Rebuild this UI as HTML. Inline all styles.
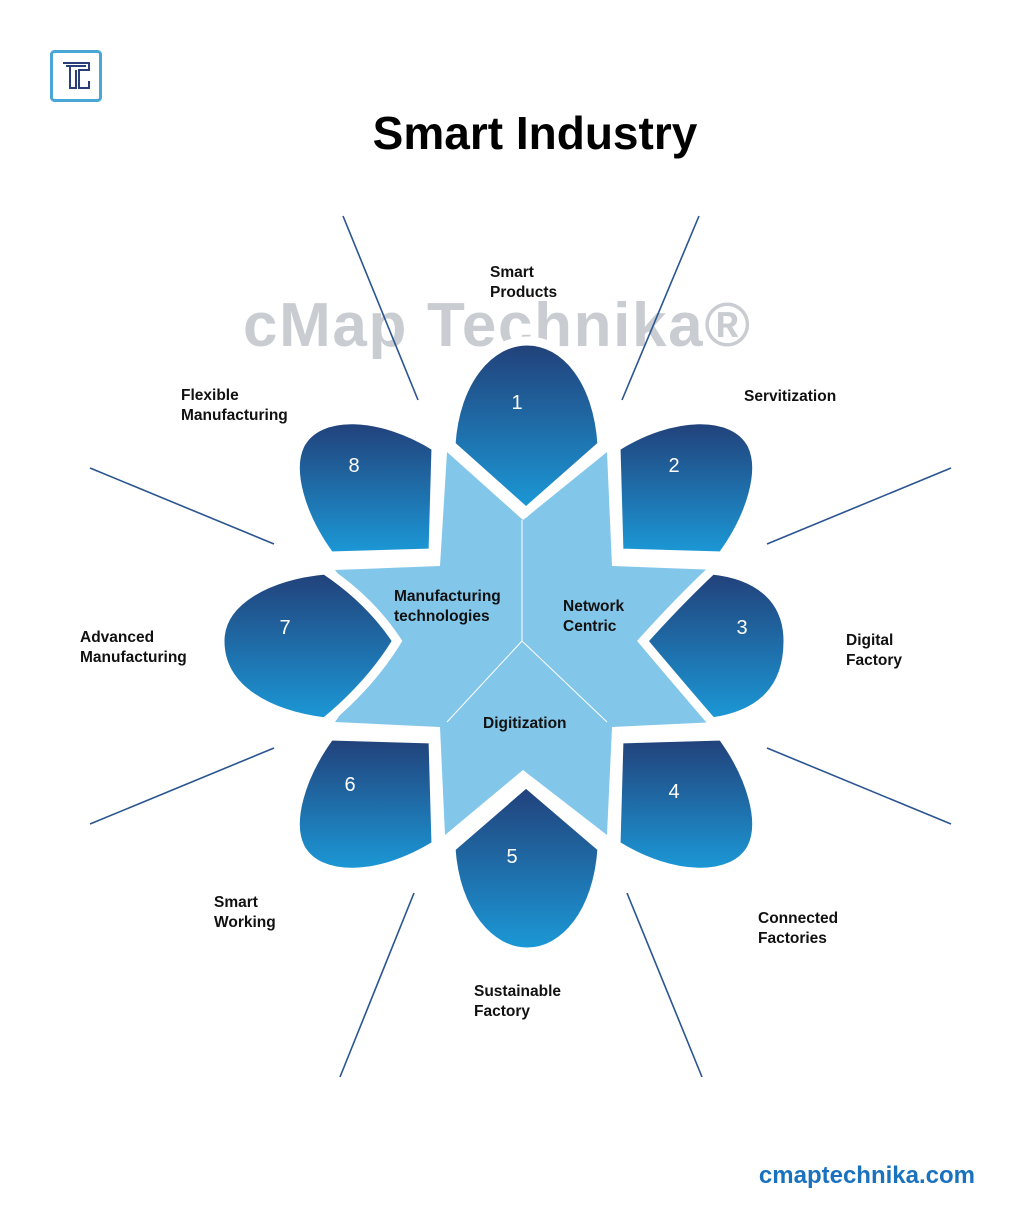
<!DOCTYPE html>
<html><head><meta charset="utf-8"><style>
html,body{margin:0;padding:0;background:#fff}
svg{display:block}
text{font-family:"Liberation Sans",sans-serif}
</style></head><body>
<svg width="1031" height="1230" viewBox="0 0 1031 1230" xmlns="http://www.w3.org/2000/svg">
<defs>
<linearGradient id="g" x1="0" y1="0" x2="0" y2="1">
<stop offset="0" stop-color="#223f78"/><stop offset="1" stop-color="#1b9ad8"/>
</linearGradient>
</defs>
<rect width="1031" height="1230" fill="#fff"/>
<rect x="51.5" y="51.5" width="49" height="49" rx="3" fill="none" stroke="#4aa6d6" stroke-width="3"/>
<path d="M63,63 H89 V70 H79 V88 H89 V81" fill="none" stroke="#2a3f7a" stroke-width="2"/>
<path d="M66,66 H86 M70,66 V88 H76 V70" fill="none" stroke="#2a3f7a" stroke-width="2"/>
<text x="535" y="149" font-size="46" font-weight="bold" text-anchor="middle" fill="#000">Smart Industry</text>
<text x="243" y="346" font-size="62" font-weight="bold" fill="#c9cdd2" textLength="507">cMap Technika®</text>
<g stroke="#2a5590" stroke-width="1.6">
<line x1="343" y1="216" x2="418" y2="400"/>
<line x1="699" y1="216" x2="622" y2="400"/>
<line x1="90" y1="468" x2="274" y2="544"/>
<line x1="951" y1="468" x2="767" y2="544"/>
<line x1="90" y1="824" x2="274" y2="748"/>
<line x1="951" y1="824" x2="767" y2="748"/>
<line x1="414" y1="893" x2="340" y2="1077"/>
<line x1="627" y1="893" x2="702" y2="1077"/>
</g>
<polygon points="447,452 523,520 607,452 612,566 718,570 655,641 718,722 612,727 607,835 523,770 445,835 440,727 335,722 392,641 335,570 440,566" fill="#82c6ea"/>
<g stroke="#fff" stroke-width="1" fill="none">
<line x1="522" y1="520" x2="522" y2="641"/>
<line x1="522" y1="641" x2="447" y2="722"/>
<line x1="522" y1="641" x2="607" y2="722"/>
</g>
<g fill="url(#g)" stroke="#fff" stroke-width="9" stroke-linejoin="miter">
<path d="M451,445 C455,380 490,341 527,341 C565,341 598,380 602,445 L526,512 Z"/>
<path d="M451,848 L526,783 L602,848 C598,912 565,952 527,952 C490,952 455,912 451,848 Z"/>
<path d="M436,447 L433,553 L330,556 C300,515 288,470 300,445 C318,410 380,412 436,447 Z"/>
<path d="M616,447 L619,553 L722,556 C752,515 764,470 752,445 C734,410 672,412 616,447 Z"/>
<path d="M436,845 L433,739 L330,736 C300,777 288,822 300,847 C318,882 380,880 436,845 Z"/>
<path d="M616,845 L619,739 L722,736 C752,777 764,822 752,847 C734,882 672,880 616,845 Z"/>
<path d="M643,641 Q680,600 712,570 C760,575 788,600 788,641 C788,690 760,715 712,722 Q680,685 643,641 Z"/>
<path d="M397,641 Q370,600 325,570 C270,575 220,600 220,641 C220,690 270,715 325,722 Q370,685 397,641 Z"/>
</g>
<g fill="#fff" font-size="20" text-anchor="middle">
<text x="517" y="409">1</text>
<text x="674" y="472">2</text>
<text x="742" y="634">3</text>
<text x="674" y="798">4</text>
<text x="512" y="863">5</text>
<text x="350" y="791">6</text>
<text x="285" y="634">7</text>
<text x="354" y="472">8</text>
</g>
<g fill="#111" font-size="15.5" font-weight="bold">
<text x="394" y="601">Manufacturing</text><text x="394" y="621">technologies</text>
<text x="563" y="611">Network</text><text x="563" y="631">Centric</text>
<text x="483" y="728">Digitization</text>
<text x="490" y="277">Smart</text><text x="490" y="297">Products</text>
<text x="744" y="401">Servitization</text>
<text x="846" y="645">Digital</text><text x="846" y="665">Factory</text>
<text x="758" y="923">Connected</text><text x="758" y="943">Factories</text>
<text x="474" y="996">Sustainable</text><text x="474" y="1016">Factory</text>
<text x="214" y="907">Smart</text><text x="214" y="927">Working</text>
<text x="80" y="642">Advanced</text><text x="80" y="662">Manufacturing</text>
<text x="181" y="400">Flexible</text><text x="181" y="420">Manufacturing</text>
</g>
<text x="975" y="1183" font-size="24" font-weight="bold" fill="#1a72bf" text-anchor="end">cmaptechnika.com</text>
</svg>
</body></html>
